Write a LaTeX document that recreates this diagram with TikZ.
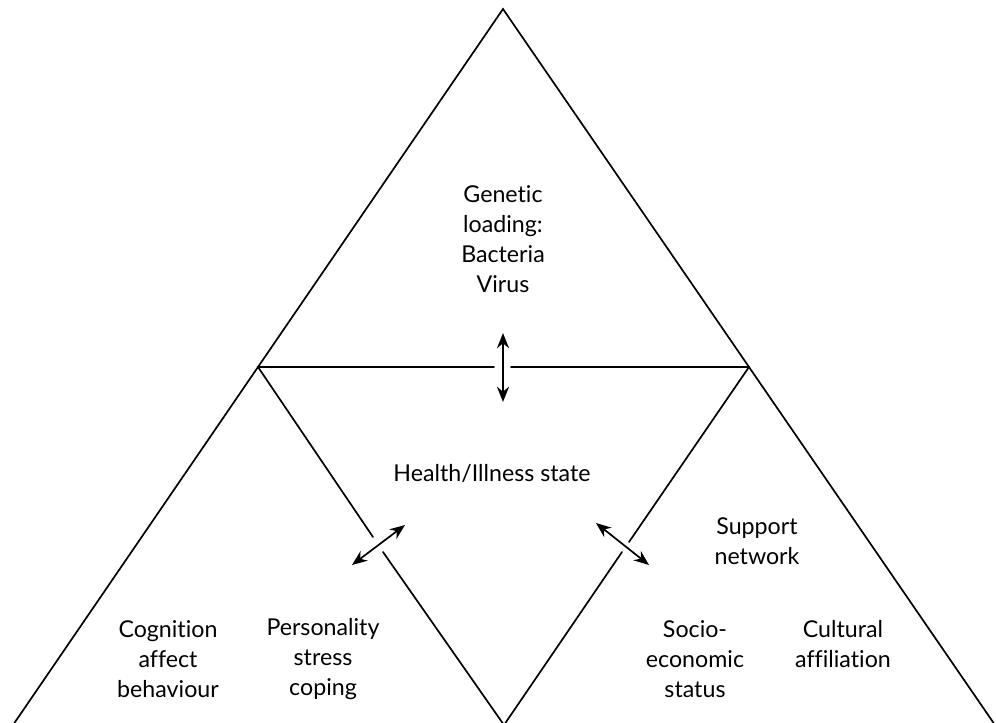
\documentclass[tikz,border=0pt]{standalone}
\usepackage{fontspec}
\setmainfont{Lato}[Ligatures=NoCommon]
\usetikzlibrary{arrows.meta}

\tikzset{
  edge/.style={line width=1.2pt, line cap=round},
  link/.style={line width=1.2pt, {Stealth[length=3.8mm,width=3mm]}-{Stealth[length=3.8mm,width=3mm]}},
  label/.style={align=center, inner sep=0pt, font=\fontsize{16.5}{21.5}\selectfont}
}

\begin{document}
\begin{tikzpicture}[x=0.025cm, y=-0.025cm]
  \useasboundingbox (0,0) rectangle (996,723);
  \clip (0,0) rectangle (996,723);

  % corners of the triangles
  \coordinate (apex) at (503,9);
  \coordinate (baseL) at (13,725);
  \coordinate (baseR) at (995,725);
  \coordinate (midL) at (258,367);
  \coordinate (midR) at (749,367);
  \coordinate (bottom) at (504,725);

  % ends of the broken lines
  \coordinate (gapTL) at (494,367);
  \coordinate (gapTR) at (511,367);
  \coordinate (gapLA) at (373,537);
  \coordinate (gapLB) at (383,552);
  \coordinate (gapRA) at (629,542);
  \coordinate (gapRB) at (622,552);

  % arrow ends
  \coordinate (topUp) at (503,333);
  \coordinate (topDown) at (503,402);
  \coordinate (leftIn) at (405,525);
  \coordinate (leftOut) at (352,565);
  \coordinate (rightIn) at (596,523);
  \coordinate (rightOut) at (649,565);

  \draw[edge] (baseL) -- (apex) -- (baseR);
  \draw[edge] (midL) -- (gapTL);
  \draw[edge] (gapTR) -- (midR);
  \draw[edge] (midL) -- (gapLA);
  \draw[edge] (gapLB) -- (bottom);
  \draw[edge] (midR) -- (gapRA);
  \draw[edge] (gapRB) -- (bottom);

  \draw[link] (topUp) -- (topDown);
  \draw[link] (leftIn) -- (leftOut);
  \draw[link] (rightIn) -- (rightOut);

  \node[label] (genetic) at (503,239) {Genetic\\loading:\\Bacteria\\Virus};
  \node[label] (health) at (492,473) {Health/Illness state};
  \node[label] (support) at (757,541) {Support\\network};
  \node[label] (cognition) at (168,659) {Cognition\\affect\\behaviour};
  \node[label] (personality) at (323,659) {Personality\\stress\\coping};
  \node[label] (socio) at (695,659) {Socio-\\economic\\status};
  \node[label] (cultural) at (843,644) {Cultural\\affiliation};
\end{tikzpicture}
\end{document}
